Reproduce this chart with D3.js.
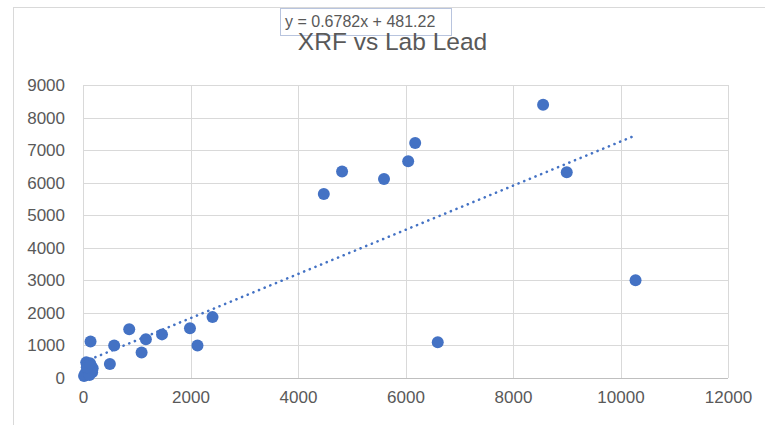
<!DOCTYPE html>
<html>
<head>
<meta charset="utf-8">
<script src="https://cdn.jsdelivr.net/npm/d3@7"></script>
<style>
  html, body { margin: 0; padding: 0; background: #fff; }
  svg { display: block; }
  text { font-family: "Liberation Sans", Arial, sans-serif; }
</style>
</head>
<body>
<svg id="chart" width="765" height="425"></svg>
<script>
// XRF reading vs laboratory lead result
const xrfValues = [8560, 6180, 6050, 5600, 4820, 4480, 9000, 10280, 6600,
  2410, 1990, 2130, 1470, 1170, 1090, 860, 580, 500, 140,
  60, 40, 20, 90, 150, 170, 120, 180, 70, 130];
const labValues = [8390, 7220, 6660, 6110, 6340, 5650, 6320, 3000, 1100,
  1870, 1530, 1000, 1340, 1190, 780, 1500, 1000, 430, 1120,
  480, 130, 60, 250, 380, 180, 90, 300, 330, 450];

// Linear trendline coefficients
const trendSlope = 0.6782;
const trendIntercept = 481.22;
const trendLabel = "y = 0.6782x + 481.22";

const xTicks = [0, 2000, 4000, 6000, 8000, 10000, 12000];
const yTicks = [0, 1000, 2000, 3000, 4000, 5000, 6000, 7000, 8000, 9000];
const chartTitle = "XRF vs Lab Lead";

const svg = d3.select("#chart");
const plot = { left: 83, right: 728, top: 85, bottom: 378 };

const x = d3.scaleLinear().domain([0, 12000]).range([plot.left, plot.right]);
const y = d3.scaleLinear().domain([0, 9000]).range([plot.bottom, plot.top]);

// Chart area border
svg.append("rect")
  .attr("x", 13.5).attr("y", 7.5)
  .attr("width", 800).attr("height", 450)
  .attr("fill", "#fff").attr("stroke", "#d9d9d9").attr("stroke-width", 1);

// Gridlines and tick labels
const xAxis = svg.append("g")
  .attr("transform", `translate(0,${plot.bottom})`)
  .call(d3.axisBottom(x).tickValues(xTicks).tickFormat(d3.format("d"))
    .tickSizeInner(-(plot.bottom - plot.top)).tickSizeOuter(0).tickPadding(13));
xAxis.select(".domain").remove();
xAxis.selectAll(".tick line").attr("stroke", "#d9d9d9").attr("shape-rendering", "crispEdges");
xAxis.selectAll(".tick text")
  .attr("fill", "#595959").attr("font-size", 17)
  .style("font-family", "'Liberation Sans', Arial, sans-serif");

const yAxis = svg.append("g")
  .attr("transform", `translate(${plot.left},0)`)
  .call(d3.axisLeft(y).tickValues(yTicks).tickFormat(d3.format("d"))
    .tickSizeInner(-(plot.right - plot.left)).tickSizeOuter(0).tickPadding(18));
yAxis.select(".domain").remove();
yAxis.selectAll(".tick line").attr("stroke", "#d9d9d9").attr("shape-rendering", "crispEdges");
yAxis.selectAll(".tick text")
  .attr("fill", "#595959").attr("font-size", 17)
  .style("font-family", "'Liberation Sans', Arial, sans-serif");

// Horizontal value axis line
svg.append("line")
  .attr("x1", plot.left).attr("x2", plot.right)
  .attr("y1", y(0)).attr("y2", y(0))
  .attr("stroke", "#bfbfbf").attr("shape-rendering", "crispEdges");

// Data points
const data = xrfValues.map((v, i) => ({ xrf: v, lab: labValues[i] }));
svg.append("g").selectAll("circle")
  .data(data)
  .join("circle")
  .attr("cx", d => x(d.xrf))
  .attr("cy", d => y(d.lab))
  .attr("r", 6)
  .attr("fill", "#4472c4");

// Dotted linear trendline across the XRF range
const xExtent = d3.extent(xrfValues);
svg.append("line")
  .attr("x1", x(xExtent[0])).attr("y1", y(trendSlope * xExtent[0] + trendIntercept))
  .attr("x2", x(xExtent[1])).attr("y2", y(trendSlope * xExtent[1] + trendIntercept))
  .attr("stroke", "#4472c4").attr("stroke-width", 2.6)
  .attr("stroke-linecap", "round")
  .attr("stroke-dasharray", "0.1 6");

// Trendline equation label
svg.append("rect")
  .attr("x", 280.5).attr("y", 8.5).attr("width", 171).attr("height", 27)
  .attr("fill", "#fff").attr("stroke", "#b8c4de").attr("stroke-width", 1);
svg.append("text")
  .attr("x", 285).attr("y", 27)
  .attr("font-size", 16).attr("fill", "#595959")
  .text(trendLabel);

// Title
svg.append("text")
  .attr("x", 392.5).attr("y", 50)
  .attr("text-anchor", "middle")
  .attr("font-size", 24.5).attr("fill", "#595959")
  .text(chartTitle);
</script>
</body>
</html>
